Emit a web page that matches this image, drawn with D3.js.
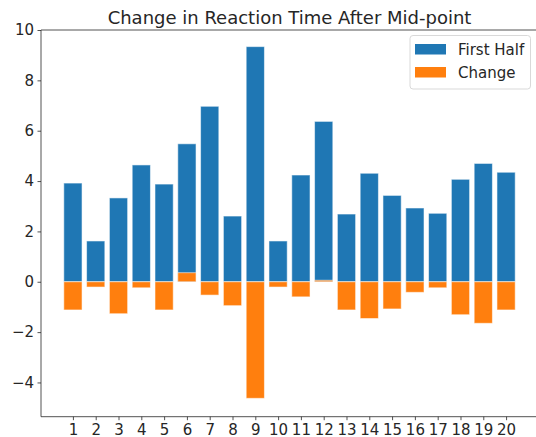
<!DOCTYPE html>
<html><head><meta charset="utf-8">
<script src="https://cdn.jsdelivr.net/npm/d3@7"></script>
<style>body{margin:0;background:#fff}svg{display:block}text{font-family:"DejaVu Sans",sans-serif;fill:#262626}</style>
</head><body><svg id="c" width="536" height="437"></svg>
<script>
const categories = [1,2,3,4,5,6,7,8,9,10,11,12,13,14,15,16,17,18,19,20];
const firstHalf = [3.92,1.62,3.33,4.64,3.88,5.48,6.97,2.61,9.34,1.62,4.24,6.37,2.69,4.31,3.43,2.93,2.72,4.07,4.70,4.35];
const change = [-1.12,-0.21,-1.27,-0.24,-1.12,0.36,-0.53,-0.95,-4.63,-0.21,-0.60,0.06,-1.12,-1.46,-1.08,-0.42,-0.24,-1.31,-1.65,-1.12];
const yTicks = [-4,-2,0,2,4,6,8,10];
const seriesNames = ["First Half","Change"];
const colors = ["#1f77b4","#ff7f0e"];

const svg = d3.select("#c");
const L=41,R=538,T=30,B=416.7;
const x = d3.scaleLinear().domain([-0.4,21.4]).range([L,R]);
const y = d3.scaleLinear().domain([-5.36,10]).range([B,T]);
const bw = x(0.8)-x(0);

function bars(vals,col){
  svg.append("g").selectAll("rect").data(vals).join("rect")
    .attr("x",(d,i)=>x(categories[i])-bw/2)
    .attr("width",bw)
    .attr("y",d=>y(Math.max(0,d)))
    .attr("height",d=>Math.abs(y(d)-y(0)))
    .attr("fill",col)
    .attr("stroke","#ffffff").attr("stroke-opacity",0.55).attr("stroke-width",1);
}
bars(firstHalf,colors[0]);
bars(change,colors[1]);

const ya = svg.append("g").attr("transform",`translate(${L},0)`)
  .call(d3.axisLeft(y).tickValues(yTicks).tickSize(3.5).tickPadding(3.5).tickFormat(d=>d<0?"\u2212"+Math.abs(d):d));
const xa = svg.append("g").attr("transform",`translate(0,${B})`)
  .call(d3.axisBottom(x).tickValues(categories).tickSize(3.5).tickPadding(4));
[ya,xa].forEach(a=>{
  a.select(".domain").remove();
  a.selectAll("line").attr("stroke","#262626").attr("stroke-width",0.8);
  a.selectAll("text").attr("font-size",15).attr("fill","#262626").style("font-family","DejaVu Sans");
});
svg.append("line").attr("x1",L).attr("x2",L).attr("y1",T).attr("y2",B).attr("stroke","#262626").attr("stroke-width",0.8);
svg.append("line").attr("x1",L).attr("x2",R).attr("y1",B).attr("y2",B).attr("stroke","#262626").attr("stroke-width",0.8);
svg.append("line").attr("x1",L).attr("x2",R).attr("y1",T).attr("y2",T).attr("stroke","#262626").attr("stroke-width",0.8);
svg.append("line").attr("x1",R).attr("x2",R).attr("y1",T).attr("y2",B).attr("stroke","#262626").attr("stroke-width",0.8);

svg.append("text").attr("x",(L+R)/2).attr("y",24).attr("text-anchor","middle").attr("font-size",18)
  .text("Change in Reaction Time After Mid-point");

const lg = svg.append("g");
lg.append("rect").attr("x",410).attr("y",35.5).attr("width",120.5).attr("height",53.5).attr("rx",3)
  .attr("fill","#fff").attr("fill-opacity",0.8).attr("stroke","#d9d9d9").attr("stroke-width",1);
seriesNames.forEach((n,i)=>{
  const yy = 44 + i*23;
  lg.append("rect").attr("x",415).attr("y",yy).attr("width",31).attr("height",10.5).attr("fill",colors[i]);
  lg.append("text").attr("x",458).attr("y",yy+11).attr("font-size",15).text(n);
});
</script></body></html>
